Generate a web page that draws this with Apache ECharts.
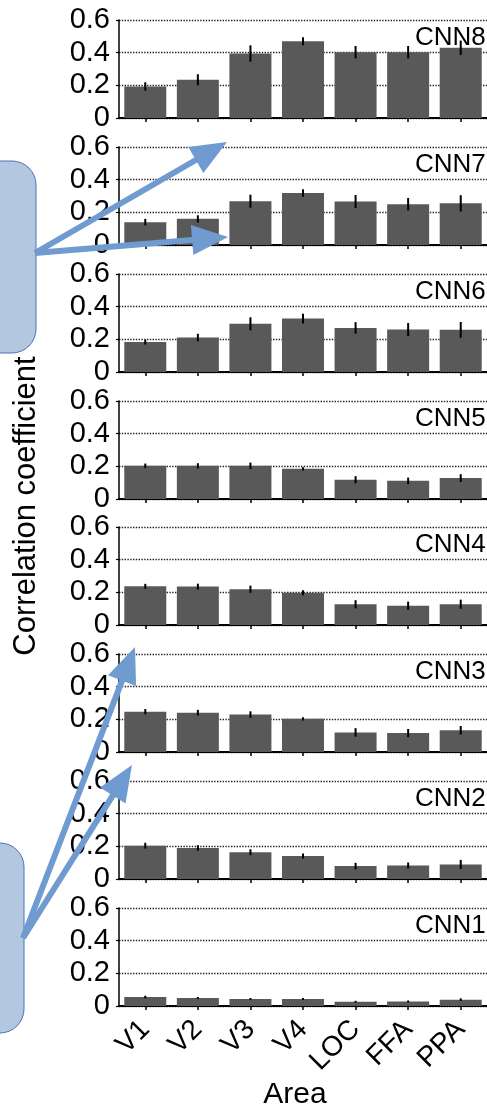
<!DOCTYPE html>
<html>
<head>
<meta charset="utf-8">
<script src="https://cdn.jsdelivr.net/npm/echarts@6/dist/echarts.min.js"></script>
<style>
html,body{margin:0;padding:0;background:#fff;}
#chart{width:487px;height:1109px;}
</style>
</head>
<body>
<div id="chart"></div>
<script>
// ---- data ----
const areas = ['V1', 'V2', 'V3', 'V4', 'LOC', 'FFA', 'PPA'];
const layers = ['CNN8', 'CNN7', 'CNN6', 'CNN5', 'CNN4', 'CNN3', 'CNN2', 'CNN1'];
const yTicks = [0, 0.2, 0.4, 0.6];

const cnn8 = [0.193, 0.234, 0.395, 0.470, 0.403, 0.403, 0.430];
const cnn8Err = [0.026, 0.034, 0.050, 0.024, 0.038, 0.038, 0.044];
const cnn7 = [0.140, 0.160, 0.268, 0.318, 0.266, 0.250, 0.255];
const cnn7Err = [0.020, 0.022, 0.040, 0.023, 0.040, 0.038, 0.050];
const cnn6 = [0.183, 0.211, 0.295, 0.327, 0.270, 0.260, 0.258];
const cnn6Err = [0.015, 0.023, 0.040, 0.030, 0.035, 0.040, 0.048];
const cnn5 = [0.203, 0.203, 0.203, 0.185, 0.118, 0.111, 0.128];
const cnn5Err = [0.014, 0.016, 0.020, 0.010, 0.022, 0.020, 0.024];
const cnn4 = [0.237, 0.235, 0.219, 0.197, 0.127, 0.118, 0.127];
const cnn4Err = [0.015, 0.018, 0.022, 0.015, 0.025, 0.025, 0.028];
const cnn3 = [0.247, 0.241, 0.229, 0.203, 0.120, 0.116, 0.133];
const cnn3Err = [0.016, 0.017, 0.020, 0.010, 0.026, 0.025, 0.026];
const cnn2 = [0.204, 0.190, 0.164, 0.141, 0.079, 0.083, 0.089];
const cnn2Err = [0.018, 0.017, 0.018, 0.015, 0.020, 0.018, 0.028];
const cnn1 = [0.055, 0.049, 0.043, 0.043, 0.026, 0.028, 0.039];
const cnn1Err = [0.008, 0.006, 0.006, 0.006, 0.006, 0.006, 0.008];

const values = [cnn8, cnn7, cnn6, cnn5, cnn4, cnn3, cnn2, cnn1];
const errors = [cnn8Err, cnn7Err, cnn6Err, cnn5Err, cnn4Err, cnn3Err, cnn2Err, cnn1Err];

// ---- layout / style ----
const FONT = "'Liberation Sans', Arial, Helvetica, sans-serif";
const gridTops = [20, 147, 274, 401, 527, 654, 781, 908];
const gridH = 98;
const gridLeft = 119;
const gridW = 373;
const barColor = '#595959';
const arrowColor = '#6f9bd1';

const grids = [], xAxes = [], yAxes = [], series = [], graphics = [];

layers.forEach((name, i) => {
  grids.push({ left: gridLeft, top: gridTops[i], width: gridW, height: gridH });
  const last = i === layers.length - 1;
  xAxes.push({
    type: 'category', gridIndex: i, data: areas,
    axisLine: { lineStyle: { color: '#000', width: 2 } },
    axisTick: { show: true, alignWithLabel: true, length: 4, lineStyle: { color: '#000', width: 1.5 } },
    axisLabel: last ? { show: true, rotate: 45, margin: 19, fontSize: 28, fontFamily: FONT, color: '#000' } : { show: false },
    splitLine: { show: false }
  });
  yAxes.push({
    type: 'value', gridIndex: i, min: 0, max: 0.6, interval: 0.2,
    axisLine: { show: true, lineStyle: { color: '#000', width: 1.5 } },
    axisTick: { show: true, length: 3, lineStyle: { color: '#000', width: 1.2 } },
    axisLabel: {
      fontSize: 29, fontFamily: FONT, color: '#000', margin: 9,
      formatter: v => (v === 0 ? '0' : v.toFixed(1))
    },
    splitLine: { show: true, lineStyle: { color: '#222', type: 'dotted', width: 1.4 } }
  });
  series.push({
    type: 'bar', xAxisIndex: i, yAxisIndex: i, data: values[i],
    barWidth: 42, itemStyle: { color: barColor }, z: 2
  });
  series.push({
    type: 'custom', xAxisIndex: i, yAxisIndex: i, z: 4,
    data: values[i].map((v, k) => [k, v, errors[i][k]]),
    encode: { x: 0, y: 1 },
    renderItem: (params, api) => {
      const x = api.value(0), v = api.value(1), e = api.value(2);
      const lo = api.coord([x, v - e]);
      const hi = api.coord([x, v + e]);
      return { type: 'line', shape: { x1: lo[0], y1: lo[1], x2: hi[0], y2: hi[1] },
               style: { stroke: '#000', lineWidth: 2 } };
    }
  });
  graphics.push({
    type: 'text', left: 415, top: gridTops[i] + 5, z: 3,
    style: { text: name, fontSize: 26, fontFamily: FONT, fill: '#000' }
  });
});

// axis titles
graphics.push({
  type: 'text', x: 26, y: 506, rotation: Math.PI / 2,
  style: { text: 'Correlation coefficient', fontSize: 31, fontFamily: FONT, fill: '#000',
           align: 'center', verticalAlign: 'middle' }
});
graphics.push({
  type: 'text', x: 295, y: 1095,
  style: { text: 'Area', fontSize: 30, fontFamily: FONT, fill: '#000',
           align: 'center', verticalAlign: 'middle' }
});

// annotation boxes
graphics.push({ type: 'rect', z: 10, shape: { x: -40, y: 161, width: 76, height: 192, r: 24 },
  style: { fill: '#b4c7e0', stroke: '#4a74b4', lineWidth: 1 } });
graphics.push({ type: 'rect', z: 10, shape: { x: -40, y: 843, width: 64, height: 190, r: 24 },
  style: { fill: '#b4c7e0', stroke: '#4a74b4', lineWidth: 1 } });

function arrow(x0, y0, x1, y1) {
  const dx = x1 - x0, dy = y1 - y0, L = Math.hypot(dx, dy);
  const ux = dx / L, uy = dy / L, hl = 36, hw = 15;
  const bx = x1 - ux * hl, by = y1 - uy * hl;
  graphics.push({ type: 'line', z: 11, shape: { x1: x0, y1: y0, x2: bx + ux * 3, y2: by + uy * 3 },
    style: { stroke: arrowColor, lineWidth: 6 } });
  graphics.push({ type: 'polygon', z: 11,
    shape: { points: [[x1, y1], [bx - uy * hw, by + ux * hw], [bx + uy * hw, by - ux * hw]] },
    style: { fill: arrowColor } });
}
arrow(35, 253, 227, 142);
arrow(35, 253, 228, 237);
arrow(23, 938, 135, 647);
arrow(23, 938, 132, 765);

const chart = echarts.init(document.getElementById('chart'));
chart.setOption({
  animation: false,
  backgroundColor: '#fff',
  grid: grids, xAxis: xAxes, yAxis: yAxes, series: series,
  graphic: graphics
});
</script>
</body>
</html>
